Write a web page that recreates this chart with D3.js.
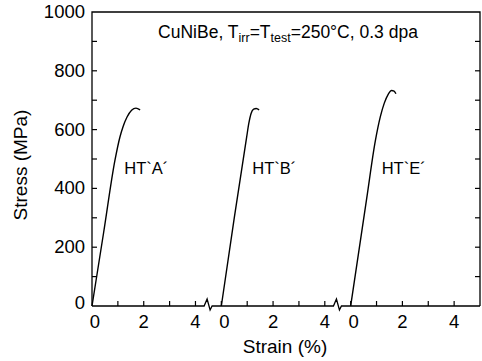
<!DOCTYPE html>
<html>
<head>
<script src="https://cdn.jsdelivr.net/npm/d3@7"></script>
<style>
body { margin: 0; background: #fff; }
text { font-family: 'Liberation Sans', sans-serif; fill: #000; }
</style>
</head>
<body>
<svg id="chart"></svg>
<script>
// strain (%) within each panel, stress (MPa)
const curveA = [[0,0],[0.45,250],[0.89,497],[1.08,575],[1.2,610],[1.35,642],[1.53,666],[1.7,673],[1.86,667]];
const curveB = [[0,0],[0.5,300],[0.98,575],[1.06,620],[1.15,655],[1.25,670],[1.35,672],[1.46,667]];
const curveE = [[0,0],[0.62,366],[0.95,560],[1.15,645],[1.3,690],[1.45,720],[1.58,733],[1.68,731],[1.75,722]];
const curveNames = ['HT`A´', 'HT`B´', 'HT`E´'];
const yTicks = [0, 200, 400, 600, 800, 1000];
const xTickLabels = [0, 2, 4];
const panelWidth = 5;   // each sub-axis spans 5 %
const breaks = [4.45, 9.45];

const W = 482, H = 361;
const svg = d3.select('#chart').attr('width', W).attr('height', H);

const x = d3.scaleLinear().domain([0, 15]).range([92, 480]);
const y = d3.scaleLinear().domain([0, 1000]).range([306, 12]);

// frame (left, top, right)
svg.append('path')
  .attr('d', `M${x(0)},${y(0)} V${y(1000)} H${x(15)} V${y(0)}`)
  .attr('fill', 'none').attr('stroke', '#000').attr('stroke-width', 1.3);

// bottom axis with zigzag breaks
let d = `M${x(0)},${y(0)}`;
breaks.forEach(b => {
  const bx = x(b);
  d += ` H${bx - 3} L${bx},${y(0) - 7} L${bx + 3},${y(0) + 4} L${bx + 5},${y(0)}`;
});
d += ` H${x(15)}`;
svg.append('path').attr('d', d).attr('fill', 'none').attr('stroke', '#000').attr('stroke-width', 1.3);

// y ticks every 100 both sides, inward
d3.range(100, 1000, 100).forEach(v => {
  svg.append('line').attr('x1', x(0)).attr('x2', x(0) + 5).attr('y1', y(v)).attr('y2', y(v))
    .attr('stroke', '#000').attr('stroke-width', 1.2);
  svg.append('line').attr('x1', x(15)).attr('x2', x(15) - 5).attr('y1', y(v)).attr('y2', y(v))
    .attr('stroke', '#000').attr('stroke-width', 1.2);
});
yTicks.forEach(v => {
  svg.append('text').attr('x', x(0) - 7).attr('y', y(v) + (v === 0 ? 3 : 6))
    .attr('text-anchor', 'end').attr('font-size', 18.5).text(v);
});

// x ticks every 1 %, inward
d3.range(1, 15).forEach(v => {
  svg.append('line').attr('x1', x(v)).attr('x2', x(v)).attr('y1', y(0)).attr('y2', y(0) - 5)
    .attr('stroke', '#000').attr('stroke-width', 1.2);
});
[0, 1, 2].forEach(p => {
  xTickLabels.forEach(v => {
    svg.append('text').attr('x', x(p * panelWidth + v) + (v === 0 ? 3 : 0)).attr('y', y(0) + 22)
      .attr('text-anchor', 'middle').attr('font-size', 18.5).text(v);
  });
});

// curves
const line = d3.line().curve(d3.curveMonotoneX);
[curveA, curveB, curveE].forEach((c, i) => {
  const off = i * panelWidth;
  svg.append('path')
    .attr('d', line(c.map(pt => [x(pt[0] + off), y(pt[1])])))
    .attr('fill', 'none').attr('stroke', '#000').attr('stroke-width', 1.4);
});

// curve labels
const labelPos = [[1.25, 450], [6.2, 448], [11.2, 448]];
curveNames.forEach((n, i) => {
  svg.append('text').attr('x', x(labelPos[i][0])).attr('y', y(labelPos[i][1]))
    .attr('font-size', 16.5).text(n);
});

// title
const t = svg.append('text').attr('x', 288).attr('y', 38).attr('text-anchor', 'middle').attr('font-size', 17.5);
t.append('tspan').text('CuNiBe, T');
t.append('tspan').attr('font-size', 12.5).attr('dy', 4).text('irr');
t.append('tspan').attr('dy', -4).text('=T');
t.append('tspan').attr('font-size', 12.5).attr('dy', 4).text('test');
t.append('tspan').attr('dy', -4).text('=250°C, 0.3 dpa');

// axis titles
svg.append('text').attr('x', 285).attr('y', 353).attr('text-anchor', 'middle')
  .attr('font-size', 19).text('Strain (%)');
svg.append('text').attr('transform', 'translate(27,165) rotate(-90)').attr('text-anchor', 'middle')
  .attr('font-size', 19).text('Stress (MPa)');
</script>
</body>
</html>
